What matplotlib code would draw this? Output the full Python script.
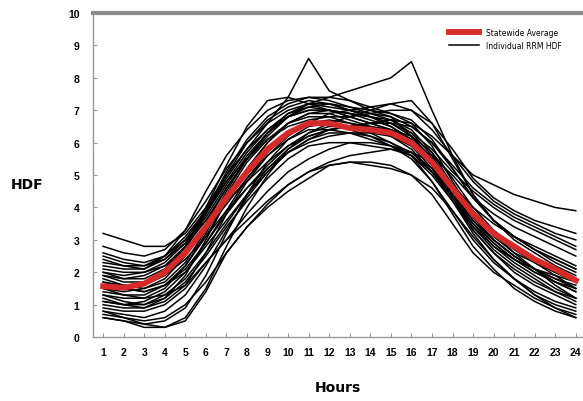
import numpy as np
import matplotlib.pyplot as plt

hours = list(range(1, 25))

statewide_avg = [1.57, 1.52, 1.65, 2.0, 2.6, 3.4, 4.3, 5.1, 5.8, 6.3, 6.6, 6.6,
                 6.45, 6.4, 6.3, 6.0, 5.4, 4.6, 3.8, 3.2, 2.8, 2.4, 2.1, 1.75]

# individual RRM HDF profiles
rrm_a = [2.4, 2.2, 2.1, 2.4, 3.0, 3.9, 4.9, 5.8, 6.6, 7.4, 8.6, 7.6, 7.3, 7.0, 6.8, 6.2, 5.5, 4.6, 3.8, 3.2, 2.8, 2.4, 2.1, 1.8]
rrm_b = [1.9, 1.8, 1.9, 2.2, 2.8, 3.6, 4.6, 5.5, 6.2, 6.8, 7.2, 7.4, 7.6, 7.8, 8.0, 8.5, 7.0, 5.6, 4.4, 3.6, 3.1, 2.7, 2.3, 2.0]
rrm_c = [3.2, 3.0, 2.8, 2.8, 3.2, 4.0, 5.0, 5.8, 6.4, 6.8, 7.0, 7.0, 6.9, 6.8, 6.6, 6.3, 5.8, 5.1, 4.5, 4.0, 3.6, 3.3, 3.0, 2.7]
rrm_d = [0.8, 0.6, 0.4, 0.3, 0.5, 1.4, 2.6, 3.4, 4.0, 4.5, 4.9, 5.3, 5.4, 5.4, 5.3, 5.0, 4.4, 3.5, 2.6, 2.0, 1.6, 1.2, 0.9, 0.7]
rrm_e = [2.6, 2.4, 2.3, 2.5, 3.0, 3.6, 4.2, 4.8, 5.4, 5.9, 6.2, 6.4, 6.5, 6.6, 6.7, 6.6, 6.2, 5.6, 5.0, 4.7, 4.4, 4.2, 4.0, 3.9]
rrm_f = [1.5, 1.4, 1.5, 1.8, 2.5, 3.5, 4.6, 5.5, 6.3, 6.9, 7.2, 7.2, 7.0, 6.8, 6.6, 6.2, 5.5, 4.6, 3.7, 3.0, 2.5, 2.1, 1.7, 1.4]
rrm_g = [1.1, 1.0, 1.1, 1.4, 2.0, 2.9, 3.9, 4.9, 5.7, 6.3, 6.6, 6.7, 6.6, 6.5, 6.3, 5.9, 5.2, 4.3, 3.4, 2.7, 2.2, 1.8, 1.4, 1.1]
rrm_h = [2.0, 1.9, 2.0, 2.3, 2.9, 3.8, 4.8, 5.7, 6.4, 6.9, 7.1, 7.0, 6.8, 6.6, 6.4, 6.1, 5.5, 4.7, 4.0, 3.5, 3.1, 2.8, 2.5, 2.2]
rrm_i = [1.3, 1.1, 1.0, 1.2, 1.7, 2.5, 3.4, 4.2, 4.9, 5.5, 5.9, 6.0, 6.0, 5.9, 5.8, 5.6, 5.1, 4.4, 3.6, 3.0, 2.5, 2.1, 1.8, 1.5]
rrm_j = [0.6, 0.5, 0.4, 0.5, 0.9, 1.9, 3.2, 4.4, 5.4, 6.1, 6.5, 6.6, 6.4, 6.2, 5.9, 5.5, 4.8, 3.9, 3.0, 2.3, 1.8, 1.3, 1.0, 0.8]
rrm_k = [2.2, 2.1, 2.1, 2.5, 3.3, 4.5, 5.6, 6.4, 7.0, 7.3, 7.4, 7.3, 7.1, 6.9, 6.7, 6.3, 5.6, 4.6, 3.7, 3.0, 2.5, 2.1, 1.8, 1.6]
rrm_l = [1.7, 1.6, 1.6, 1.9, 2.4, 3.1, 3.9, 4.6, 5.2, 5.7, 6.0, 6.2, 6.3, 6.3, 6.2, 6.0, 5.6, 5.0, 4.3, 3.8, 3.4, 3.1, 2.8, 2.5]
rrm_m = [0.9, 0.8, 0.8, 1.0, 1.5, 2.3, 3.0, 3.6, 4.2, 4.7, 5.1, 5.4, 5.6, 5.7, 5.8, 5.7, 5.4, 4.7, 3.9, 3.2, 2.6, 2.1, 1.6, 1.2]
rrm_n = [2.8, 2.6, 2.5, 2.7, 3.3, 4.2, 5.2, 6.0, 6.6, 7.0, 7.2, 7.1, 7.0, 6.9, 6.8, 6.5, 6.0, 5.3, 4.6, 4.1, 3.7, 3.4, 3.1, 2.8]
rrm_o = [1.4, 1.3, 1.3, 1.6, 2.2, 3.1, 4.2, 5.2, 6.0, 6.6, 6.9, 7.0, 6.9, 6.7, 6.5, 6.1, 5.3, 4.3, 3.3, 2.6, 2.1, 1.7, 1.4, 1.2]
rrm_p = [0.7, 0.6, 0.5, 0.6, 1.0, 1.7, 2.6, 3.4, 4.1, 4.7, 5.1, 5.3, 5.4, 5.3, 5.2, 5.0, 4.6, 3.9, 3.1, 2.4, 1.8, 1.3, 0.9, 0.6]
rrm_q = [1.8, 1.6, 1.5, 1.7, 2.3, 3.3, 4.5, 5.5, 6.3, 6.8, 7.0, 7.0, 6.8, 6.6, 6.4, 6.1, 5.4, 4.4, 3.5, 2.9, 2.4, 2.0, 1.7, 1.5]
rrm_r = [2.5, 2.3, 2.2, 2.4, 2.9, 3.7, 4.7, 5.6, 6.3, 6.8, 7.1, 7.2, 7.1, 7.0, 6.9, 6.7, 6.1, 5.2, 4.3, 3.6, 3.1, 2.7, 2.4, 2.1]
rrm_s = [1.2, 1.0, 0.9, 1.1, 1.6, 2.6, 3.8, 4.8, 5.6, 6.1, 6.4, 6.4, 6.3, 6.1, 5.9, 5.6, 5.0, 4.2, 3.3, 2.6, 2.0, 1.6, 1.3, 1.0]
rrm_t = [1.6, 1.5, 1.4, 1.6, 2.1, 2.9, 3.8, 4.6, 5.3, 5.9, 6.3, 6.6, 6.8, 7.0, 7.2, 7.3, 6.6, 5.5, 4.4, 3.6, 3.0, 2.6, 2.2, 1.9]
rrm_u = [2.1, 2.0, 2.0, 2.2, 2.6, 3.3, 4.1, 4.9, 5.6, 6.2, 6.6, 6.9, 7.0, 7.1, 7.2, 7.0, 6.4, 5.6, 4.8, 4.2, 3.8, 3.5, 3.2, 3.0]
rrm_v = [1.0, 0.9, 0.9, 1.2, 1.9, 3.0, 4.2, 5.2, 6.0, 6.6, 6.9, 6.9, 6.7, 6.5, 6.2, 5.8, 5.1, 4.2, 3.2, 2.4, 1.8, 1.4, 1.1, 0.9]
rrm_w = [1.9, 1.7, 1.7, 2.0, 2.7, 3.8, 5.0, 6.0, 6.7, 7.1, 7.3, 7.2, 7.0, 6.8, 6.5, 6.1, 5.3, 4.3, 3.4, 2.8, 2.4, 2.1, 1.9, 1.7]
rrm_x = [0.8, 0.7, 0.6, 0.8, 1.3, 2.2, 3.3, 4.3, 5.1, 5.7, 6.1, 6.3, 6.3, 6.2, 6.0, 5.7, 5.1, 4.3, 3.5, 2.8, 2.3, 1.9, 1.5, 1.2]
rrm_y = [2.3, 2.2, 2.2, 2.5, 3.1, 3.9, 4.8, 5.5, 6.1, 6.5, 6.7, 6.8, 6.8, 6.9, 7.0, 7.0, 6.6, 5.8, 4.9, 4.3, 3.9, 3.6, 3.4, 3.2]
rrm_z = [1.3, 1.2, 1.2, 1.5, 2.2, 3.2, 4.4, 5.4, 6.1, 6.6, 6.8, 6.8, 6.6, 6.4, 6.2, 5.9, 5.3, 4.5, 3.6, 2.9, 2.4, 2.0, 1.7, 1.4]
rrm_aa = [1.5, 1.3, 1.2, 1.3, 1.6, 2.3, 3.0, 3.8, 4.5, 5.1, 5.5, 5.8, 6.0, 6.0, 5.9, 5.7, 5.2, 4.5, 3.8, 3.2, 2.8, 2.4, 2.0, 1.7]
rrm_ab = [0.6, 0.5, 0.3, 0.3, 0.6, 1.5, 2.8, 4.0, 5.0, 5.8, 6.3, 6.5, 6.5, 6.3, 6.0, 5.6, 4.8, 3.8, 2.8, 2.1, 1.5, 1.1, 0.8, 0.6]
rrm_ac = [2.0, 1.8, 1.8, 2.1, 2.8, 3.9, 5.1, 6.1, 6.8, 7.2, 7.4, 7.4, 7.3, 7.1, 6.9, 6.6, 5.9, 4.8, 3.8, 3.1, 2.6, 2.3, 2.0, 1.8]
rrm_ad = [1.7, 1.5, 1.4, 1.6, 2.0, 2.8, 3.6, 4.4, 5.1, 5.7, 6.1, 6.4, 6.5, 6.6, 6.6, 6.5, 6.0, 5.2, 4.3, 3.6, 3.1, 2.7, 2.4, 2.1]
rrm_ae = [1.6, 1.5, 1.6, 2.0, 2.8, 4.0, 5.3, 6.5, 7.3, 7.4, 7.2, 7.0, 6.9, 6.8, 6.7, 6.4, 5.7, 4.7, 3.8, 3.2, 2.7, 2.3, 2.0, 1.7]
rrm_af = [1.1, 1.0, 1.0, 1.3, 1.8, 2.6, 3.5, 4.4, 5.2, 5.8, 6.2, 6.4, 6.5, 6.5, 6.4, 6.2, 5.7, 4.9, 4.0, 3.3, 2.8, 2.3, 1.9, 1.5]

individual = [rrm_a, rrm_b, rrm_c, rrm_d, rrm_e, rrm_f, rrm_g, rrm_h, rrm_i, rrm_j,
              rrm_k, rrm_l, rrm_m, rrm_n, rrm_o, rrm_p, rrm_q, rrm_r, rrm_s, rrm_t,
              rrm_u, rrm_v, rrm_w, rrm_x, rrm_y, rrm_z, rrm_aa, rrm_ab, rrm_ac, rrm_ad,
              rrm_ae, rrm_af]

fig = plt.figure(figsize=(5.83, 4.02), dpi=100)
ax = fig.add_axes([0.16, 0.159, 0.84, 0.806])

for i, prof in enumerate(individual):
    ax.plot(hours, prof, color='black', linewidth=1.1,
            label='Individual RRM HDF' if i == 0 else None, zorder=2)
ax.plot(hours, statewide_avg, color='#d62a2a', linewidth=4.2,
        label='Statewide Average', zorder=3)

ax.set_xlim(0.52, 24.35)
ax.set_ylim(0, 10)
ax.set_xticks(hours)
ax.set_yticks(range(0, 11))
ax.tick_params(direction='in', length=3, color='#999999', width=0.8)
for lbl in ax.get_xticklabels() + ax.get_yticklabels():
    lbl.set_family('Liberation Sans')
    lbl.set_fontweight('bold')
    lbl.set_fontsize(7.5)
ax.tick_params(axis='x', pad=7)
ax.tick_params(axis='y', pad=10)

for side in ['left', 'bottom']:
    ax.spines[side].set_color('#999999')
    ax.spines[side].set_linewidth(1.0)
ax.spines['right'].set_visible(False)
ax.spines['top'].set_color('#8a8a8a')
ax.spines['top'].set_linewidth(3)

ax.set_xlabel('Hours', fontsize=10, fontweight='bold', labelpad=17)
ax.set_ylabel('HDF', fontsize=10, fontweight='bold', rotation=0, labelpad=0)
ax.yaxis.set_label_coords(-0.135, 0.45)

handles, labels = ax.get_legend_handles_labels()
leg = ax.legend(handles[::-1], labels[::-1], loc='upper right', frameon=False,
                fontsize=5.5, handlelength=4, bbox_to_anchor=(0.97, 0.975))

fig.savefig('out.png', dpi=100)
